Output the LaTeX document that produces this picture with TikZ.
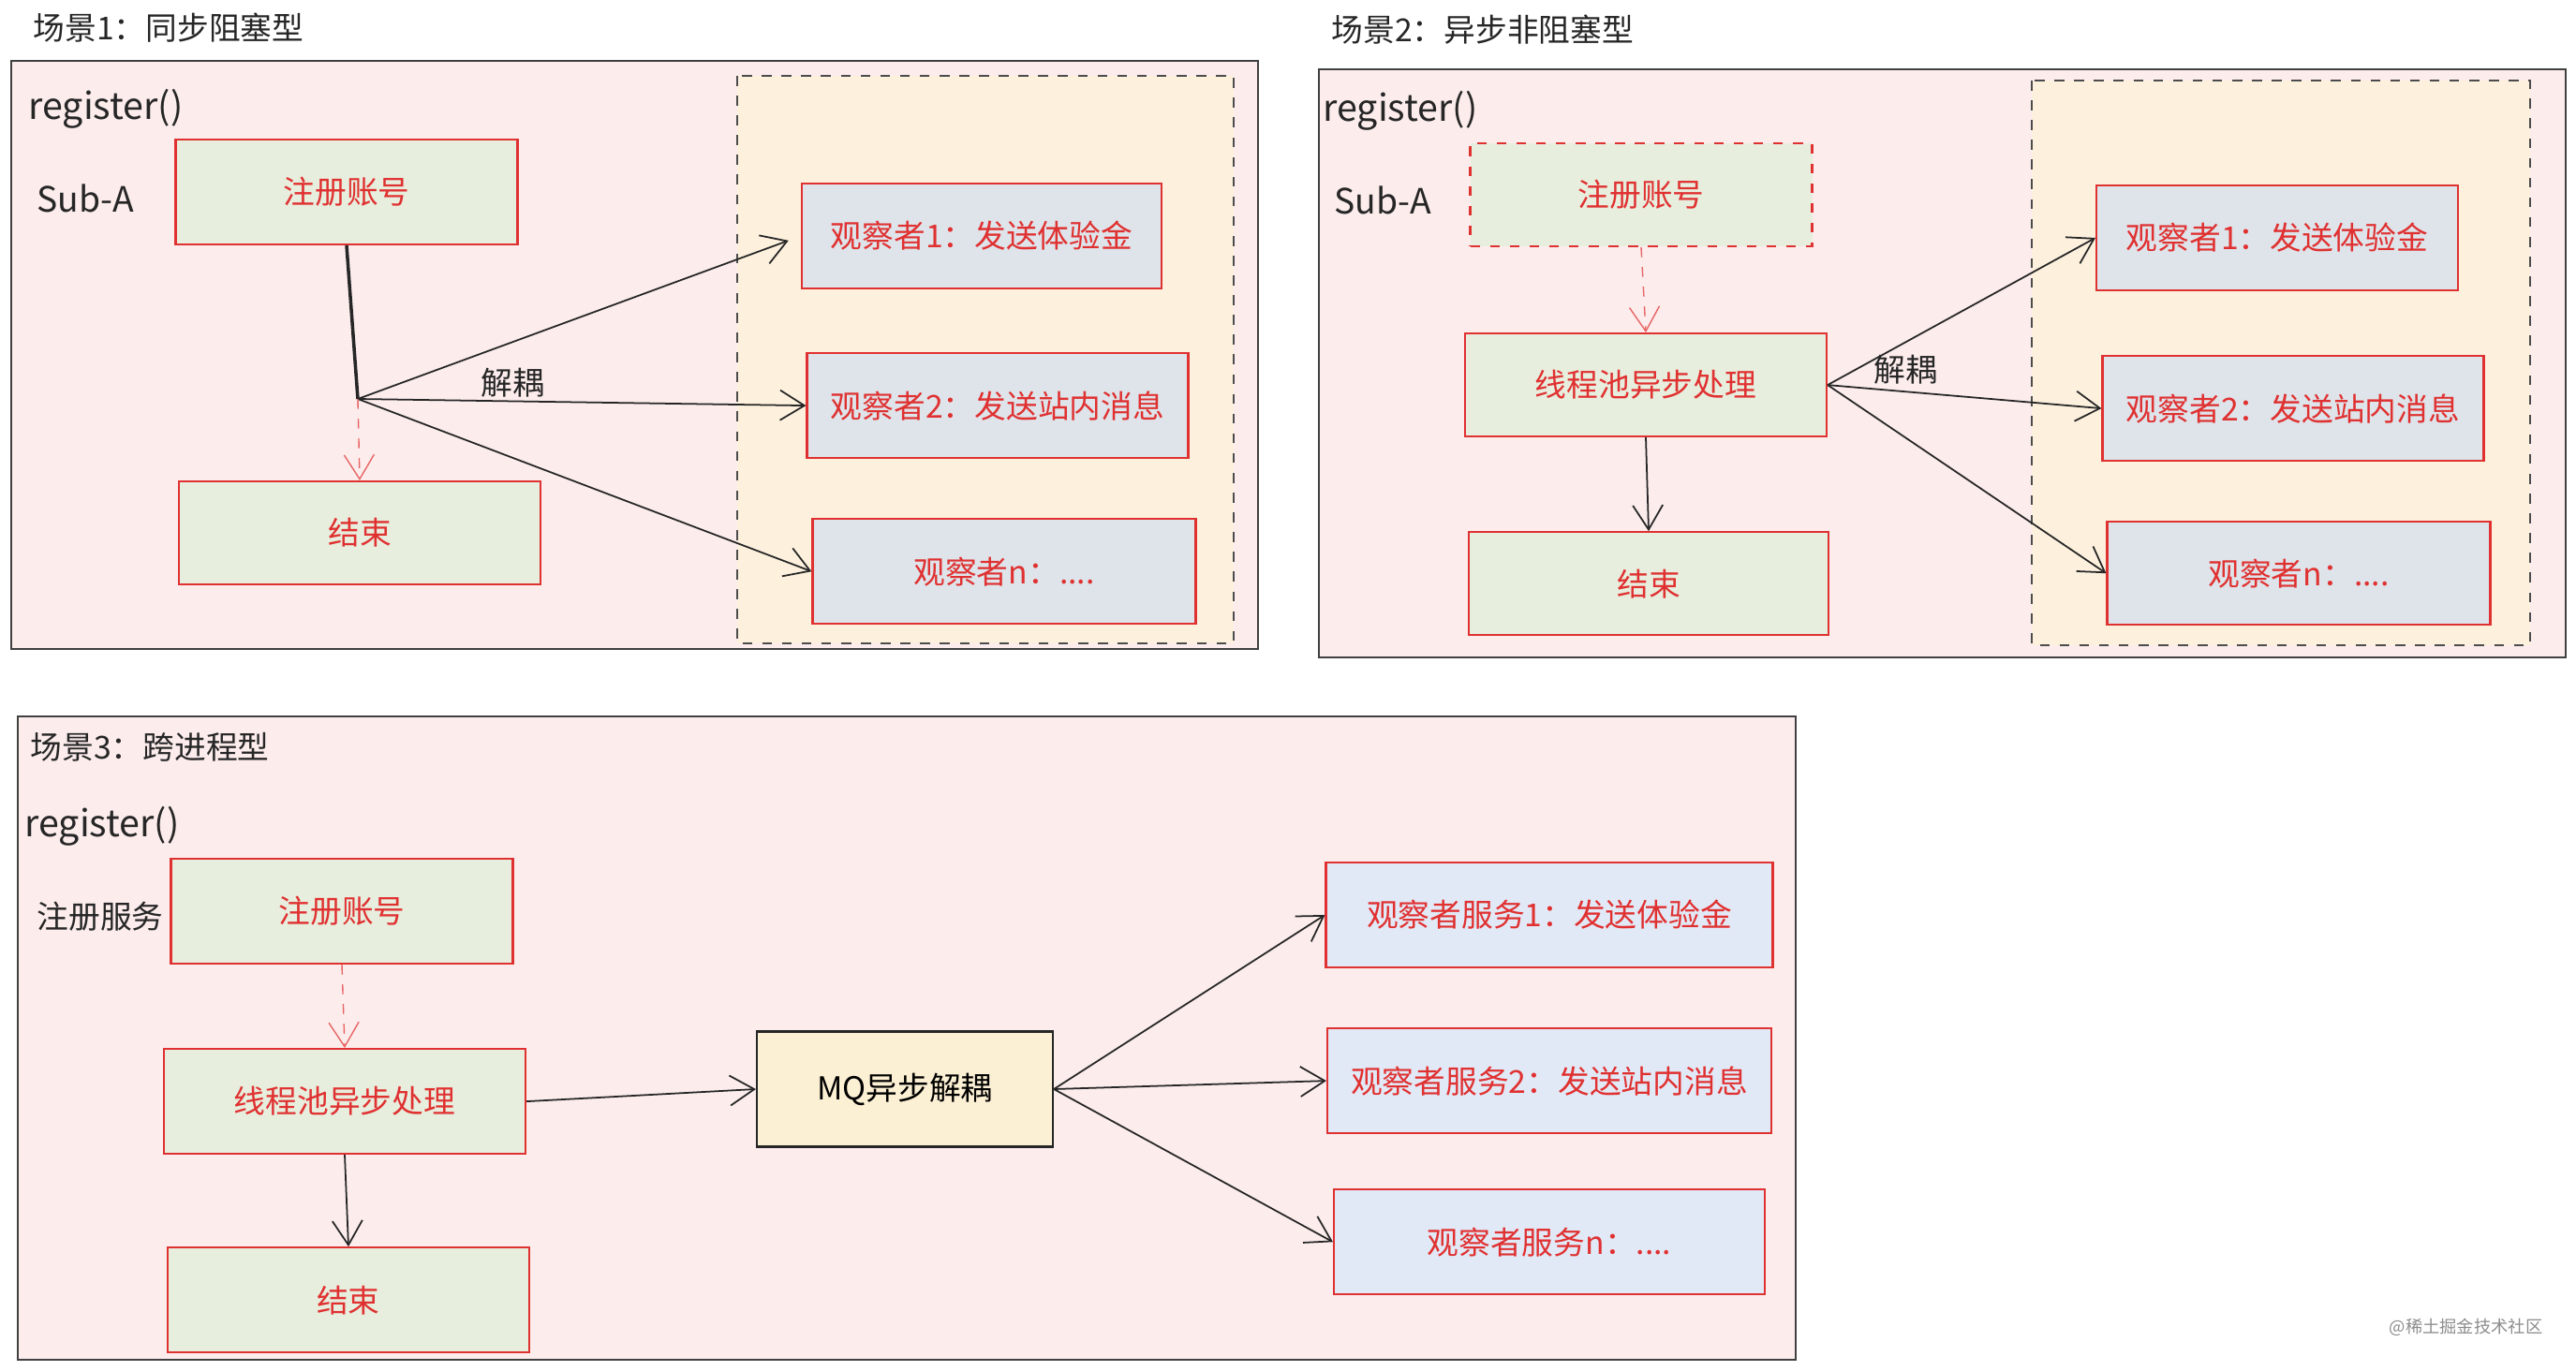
\documentclass[tikz,border=0pt]{standalone}
\usepackage{fontspec}
\setmainfont{Noto Sans CJK SC}
\usepackage{xcolor}
\usetikzlibrary{positioning, arrows.meta, calc}

\definecolor{scenepink}{RGB}{252,236,236}
\definecolor{grouporange}{RGB}{253,241,222}
\definecolor{boxgreen}{RGB}{231,238,222}
\definecolor{boxgrey}{RGB}{222,228,234}
\definecolor{boxblue}{RGB}{226,233,246}
\definecolor{mqyellow}{RGB}{252,240,212}
\definecolor{sketchred}{RGB}{224,49,49}

\begin{document}
\begin{tikzpicture}[node distance=0.9cm, >={Straight Barb[length=2.6mm,width=3.2mm]},
        every node/.style={font=\fontsize{9.6}{11}\selectfont},
        scene/.style={draw=black!75, line width=0.5pt, fill=scenepink},
        groupbox/.style={draw=black!70, dashed, line width=0.6pt, fill=grouporange},
        greenbox/.style={draw=sketchred, line width=0.6pt, fill=boxgreen, text=sketchred, minimum width=3.86cm, minimum height=1.12cm, inner sep=0pt},
        greybox/.style={greenbox, fill=boxgrey},
        bluebox/.style={greenbox, fill=boxblue},
        mqbox/.style={draw=black!85, line width=0.6pt, fill=mqyellow, minimum width=3.16cm, minimum height=1.23cm, inner sep=0pt},
        sketchtext/.style={anchor=west, inner sep=0pt, text=black!85},
        bigtext/.style={sketchtext, font=\fontsize{11.2}{13}\selectfont},
        flowline/.style={->, draw=black!85, line width=0.5pt},
        redflow/.style={->, draw=sketchred!75, line width=0.4pt, dashed}]
      % Canvas
      \useasboundingbox (0,0) rectangle (27.5,-14.64);

      % Scene 1: synchronous, blocking
      \node[sketchtext] (title1) at (0.35,-0.30) {场景1：同步阻塞型};
      \draw[scene] (0.12,-0.65) rectangle (13.43,-6.93);
      \node[bigtext] (call1) at (0.30,-1.16) {register()};
      \node[bigtext, font=\fontsize{10.6}{12}\selectfont] (sub1) at (0.39,-2.12) {Sub-A};
      \node[greenbox, minimum width=3.65cm] (s1reg) at (3.70,-2.05) {注册账号};
      \node[greenbox, minimum width=3.86cm, minimum height=1.10cm] (s1end) at (3.84,-5.69) {结束};

      % Observers of scene 1
      \draw[groupbox] (7.87,-0.81) rectangle (13.17,-6.87);
      \node[greybox, minimum width=3.84cm] (s1obs1) at (10.48,-2.52) {观察者1：发送体验金};
      \node[greybox, minimum width=4.07cm, below=0.67cm of s1obs1, xshift=0.17cm] (s1obs2) {观察者2：发送站内消息};
      \node[greybox, minimum width=4.09cm, below=0.63cm of s1obs2, xshift=0.07cm] (s1obsn) {观察者n：....};

      \coordinate (fork1) at (3.82,-4.26);
      \draw[flowline, -, line width=1pt] (s1reg.south) -- (fork1);
      \draw[flowline, shorten >=0.14cm] (fork1) -- (s1obs1.west);
      \draw[flowline] (fork1) -- (s1obs2.west);
      \draw[flowline] (fork1) -- (s1obsn.west);
      \draw[redflow] (fork1) -- (s1end.north);
      \node[sketchtext, anchor=center] (cut1) at (5.47,-4.09) {解耦};

      % Scene 2: asynchronous, non-blocking
      \node[sketchtext] (title2) at (14.21,-0.32) {场景2：异步非阻塞型};
      \draw[scene] (14.08,-0.74) rectangle (27.39,-7.02);
      \node[bigtext] (call2) at (14.12,-1.18) {register()};
      \node[bigtext, font=\fontsize{10.6}{12}\selectfont] (sub2) at (14.24,-2.14) {Sub-A};
      \node[greenbox, dashed, minimum width=3.65cm, minimum height=1.10cm] (s2reg) at (17.52,-2.08) {注册账号};
      \node[greenbox, minimum height=1.10cm, below=0.91cm of s2reg, xshift=0.05cm] (s2pool) {线程池异步处理};
      \node[greenbox, minimum width=3.84cm, minimum height=1.10cm, below=1.0cm of s2pool, xshift=0.03cm] (s2end) {结束};

      % Observers of scene 2
      \draw[groupbox] (21.69,-0.86) rectangle (27.01,-6.89);
      \node[greybox] (s2obs1) at (24.31,-2.54) {观察者1：发送体验金};
      \node[greybox, minimum width=4.07cm, below=0.68cm of s2obs1, xshift=0.17cm] (s2obs2) {观察者2：发送站内消息};
      \node[greybox, minimum width=4.09cm, minimum height=1.10cm, below=0.63cm of s2obs2, xshift=0.06cm] (s2obsn) {观察者n：....};

      \draw[redflow] (s2reg.south) -- (s2pool.north);
      \draw[flowline] (s2pool.south) -- (s2end.north);
      \draw[flowline] (s2pool.east) -- (s2obs1.west);
      \draw[flowline] (s2pool.east) -- (s2obs2.west);
      \draw[flowline] (s2pool.east) -- (s2obsn.west);
      \node[sketchtext, anchor=center] (cut2) at (20.34,-3.95) {解耦};

      % Scene 3: across processes
      \draw[scene] (0.19,-7.65) rectangle (19.17,-14.52);
      \node[sketchtext] (title3) at (0.32,-7.98) {场景3：跨进程型};
      \node[bigtext] (call3) at (0.26,-8.82) {register()};
      \node[sketchtext] (svc3) at (0.39,-9.79) {注册服务};
      \node[greenbox, minimum width=3.65cm] (s3reg) at (3.65,-9.73) {注册账号};
      \node[greenbox, below=0.89cm of s3reg, xshift=0.03cm] (s3pool) {线程池异步处理};
      \node[greenbox, below=0.98cm of s3pool, xshift=0.04cm] (s3end) {结束};
      \node[mqbox] (s3mq) at (9.66,-11.63) {MQ异步解耦};

      % Observer services of scene 3
      \node[bluebox, minimum width=4.77cm] (s3obs1) at (16.54,-9.77) {观察者服务1：发送体验金};
      \node[bluebox, minimum width=4.74cm, below=0.63cm of s3obs1] (s3obs2) {观察者服务2：发送站内消息};
      \node[bluebox, minimum width=4.60cm, below=0.58cm of s3obs2] (s3obsn) {观察者服务n：....};

      \draw[redflow] (s3reg.south) -- (s3pool.north);
      \draw[flowline] (s3pool.south) -- (s3end.north);
      \draw[flowline] (s3pool.east) -- (s3mq.west);
      \draw[flowline] (s3mq.east) -- (s3obs1.west);
      \draw[flowline] (s3mq.east) -- (s3obs2.west);
      \draw[flowline] (s3mq.east) -- (s3obsn.west);

      % Watermark
      \node[anchor=east, inner sep=0pt, text=black!45, font=\fontsize{5.2}{6}\selectfont] (mark) at (27.15,-14.17) {@稀土掘金技术社区};
    \end{tikzpicture}
\end{document}
